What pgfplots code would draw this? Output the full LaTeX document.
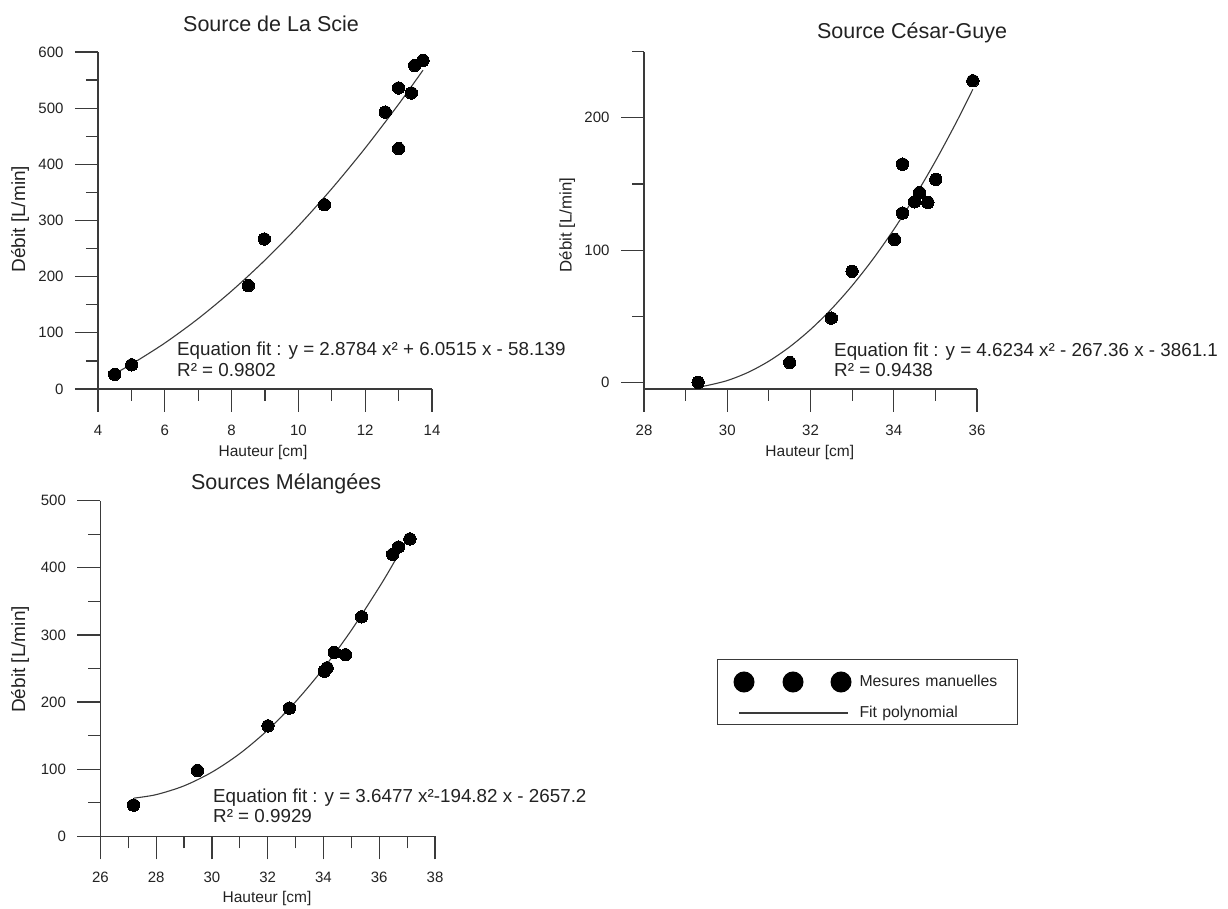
\documentclass[border=0pt]{standalone}
\usepackage{pgfplots}
\pgfplotsset{compat=1.18}
\usepackage{fontspec}
\setmainfont{Liberation Sans}
\definecolor{ink}{HTML}{222222}
\definecolor{axc}{HTML}{3A3A3A}
\newcommand{\fs}[1]{\fontsize{#1}{#1}\selectfont}
\pgfplotsset{
  myax/.style={
    scale only axis, anchor=south west, clip=false,
    axis lines*=left,
    axis line style={-, axc, line width=1.2pt},
    tick align=outside,
    major tick length=23pt, minor tick length=12pt,
    every tick/.style={axc, line width=1.2pt},
    tick label style={font=\fs{15}, text=ink},
    yticklabel style={xshift=-8pt},
    xticklabel style={yshift=-9.6pt},
    /pgf/number format/assume math mode=true,
    every axis title shift=0pt,
    xlabel style={font=\fs{15.5}, text=ink},
    ylabel style={font=\fs{19}, text=ink},
    title style={font=\fs{21.5}, text=ink},
    xlabel={Hauteur [cm]}, ylabel={Débit [L/min]},
  },
  fitl/.style={no marks, smooth, line width=1.1pt, axc},
  pts/.style={only marks, mark=*, mark size=6.2pt, mark options={fill=black, draw=black, line width=0pt}},
}
\begin{document}
\begin{tikzpicture}
\useasboundingbox (0pt,0pt) rectangle (1228pt,909pt);
% ---------------- Source de La Scie
\begin{axis}[myax, at={(98pt,520pt)}, width=334pt, height=337pt,
  xmin=4, xmax=14, ymin=0, ymax=600,
  xtick={4,6,...,14}, minor xtick={5,7,...,13},
  ytick={0,100,...,600}, minor ytick={50,150,...,550},
  title={Source de La Scie},
  title style={at={(axis description cs:0.518,1)}, anchor=base, yshift=20.3pt},
  xlabel style={at={(axis description cs:0.494,-0.187)}, anchor=center},
  ylabel style={at={(axis description cs:-0.2335,0.504)}, anchor=center},
]
\addplot[fitl] coordinates {(4.5,27.38) (5,44.08) (6,81.79) (7,125.26) (8,174.49) (9,229.48) (10,290.22) (11,356.71) (12,428.97) (13,506.98) (13.73,567.56)};
\addplot[pts] coordinates {(4.5,26) (5.01,43) (8.5,184) (8.98,267) (10.78,328) (12.6,493) (13.0,536) (13.0,428) (13.38,527) (13.48,576) (13.73,585)};
\end{axis}
% ---------------- Source César-Guye
\begin{axis}[myax, at={(644pt,520pt)}, width=333pt, height=337.3pt,
  xmin=28, xmax=36, ymin=-5, ymax=250,
  xtick={28,30,...,36}, minor xtick={29,31,...,35},
  ytick={0,100,200}, minor ytick={50,150,250},
  title={Source César-Guye},
  title style={at={(axis description cs:0.805,1)}, anchor=base, yshift=12.7pt},
  xlabel style={at={(axis description cs:0.498,-0.187)}, anchor=center},
  ylabel style={at={(axis description cs:-0.231,0.486)}, anchor=center, font=\fs{16.8}},
]
\addplot[fitl] coordinates {(29.3,-3.38) (29.5,-2.48) (30,1.38) (30.5,7.56) (31,16.05) (31.5,26.85) (32,39.96) (32.5,55.38) (33,73.12) (33.5,93.17) (34,115.53) (34.5,140.20) (35,167.18) (35.5,196.47) (35.9,221.57)};
\addplot[pts] coordinates {(29.3,0) (31.5,15) (32.5,48.6) (33.0,84) (34.02,108) (34.21,128) (34.21,165) (34.5,136.5) (34.62,143.5) (34.82,136) (35.01,153.5) (35.9,228)};
\end{axis}
% ---------------- Sources Mélangées
\begin{axis}[myax, at={(100.4pt,72.7pt)}, width=334.6pt, height=335.6pt,
  xmin=26, xmax=38, ymin=0, ymax=500,
  xtick={26,28,...,38}, minor xtick={27,29,...,37},
  ytick={0,100,...,500}, minor ytick={50,150,...,450},
  title={Sources Mélangées},
  title style={at={(axis description cs:0.555,1)}, anchor=base, yshift=11.4pt},
  xlabel style={at={(axis description cs:0.498,-0.184)}, anchor=center},
  ylabel style={at={(axis description cs:-0.240,0.527)}, anchor=center},
  legend cell align=left,
  legend style={at={(axis description cs:1.8428,0.5283)}, anchor=north west,
    draw=axc, line width=1pt, fill=white, inner xsep=16pt, inner ysep=4.6pt,
    row sep=14pt, column sep=8pt, font=\fs{15.8}, text=ink,
    nodes={inner sep=0pt, text width=142pt}},
]
\addplot[fitl, forget plot] coordinates {(27.2,56.85) (28,62.07) (29,75.17) (30,95.57) (31,123.25) (32,158.24) (33,200.52) (34,250.10) (35,306.97) (36,371.14) (36.5,405.96) (37.1,450.15)};
\addplot[pts, forget plot] coordinates {(27.19,46.5) (29.48,98) (32.01,164.5) (32.78,191) (34.03,246) (34.13,251) (34.39,274) (34.79,270.5) (35.37,327) (36.48,420) (36.69,431) (37.1,443)};
\addlegendimage{legend image code/.code={
  \path (0pt,17.4pt);
  \fill[black] (5pt,0pt) circle[radius=10pt];
  \fill[black] (54pt,0pt) circle[radius=10pt];
  \fill[black] (102pt,0pt) circle[radius=10pt];}}
\addlegendentry{Mesures manuelles}
\addlegendimage{legend image code/.code={
  \draw[line width=1.1pt, axc] (0pt,0pt) -- (109pt,0pt);}}
\addlegendentry{Fit polynomial}
\end{axis}
% ---------------- fit equations
\begin{scope}[every node/.style={anchor=base west, inner sep=0pt, font=\fs{18.8}, text=ink}]
\node at (177pt,553pt) {Equation fit : y = 2.8784 x² + 6.0515 x - 58.139};
\node at (177pt,532pt) {R² = 0.9802};
\node at (834pt,552pt) {Equation fit : y = 4.6234 x² - 267.36 x - 3861.1};
\node at (834pt,532pt) {R² = 0.9438};
\node at (213pt,106pt) {Equation fit : y = 3.6477 x²-194.82 x - 2657.2};
\node at (213pt,86pt) {R² = 0.9929};
\end{scope}
\end{tikzpicture}
\end{document}
